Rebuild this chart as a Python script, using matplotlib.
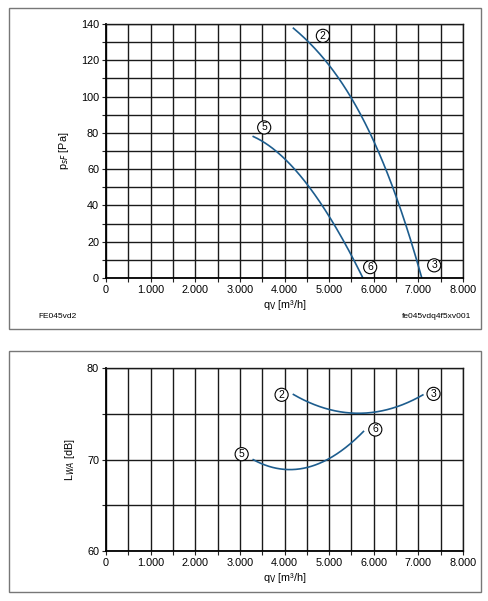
import numpy as np
import matplotlib.pyplot as plt
from matplotlib.patches import Rectangle
from matplotlib.ticker import MultipleLocator, FuncFormatter

plt.rcParams['font.family'] = ['Liberation Sans', 'DejaVu Sans']

# pressure curves (q_v in m3/h, p_sF in Pa)
q_23 = [4200, 4500, 5000, 5500, 6000, 6500, 7000, 7080]
p_23 = [138, 130, 119, 98, 75, 46, 6, 0]
q_56 = [3300, 4000, 4500, 5000, 5500, 5770]
p_56 = [78, 66, 51, 35.5, 11, 0]

# sound power curves (L_WA in dB)
lq_23 = [4200, 5000, 5600, 6400, 7100]
lw_23 = [77.1, 75.6, 75.0, 75.6, 77.1]
lq_56 = [3300, 4130, 5000, 5400, 5770]
lw_56 = [70.0, 68.9, 70.15, 71.4, 73.1]

top_marks = [("2", 4860, 133.5), ("5", 3545, 83), ("6", 5920, 6), ("3", 7355, 7)]
bot_marks = [("2", 3935, 77.1), ("3", 7340, 77.2), ("6", 6035, 73.3), ("5", 3040, 70.6)]

blue = '#1d5d8e'

fig = plt.figure(figsize=(4.89, 6.01), dpi=100)

# frames around the two panels
for y0, h in [(0.4526, 0.534), (0.015, 0.401)]:
    fig.patches.append(Rectangle((0.0184, y0), 0.965, h, transform=fig.transFigure,
                                 fill=False, ec='#777777', lw=1.0))

def smooth(x, y, deg):
    c = np.polyfit(x, y, deg)
    xs = np.linspace(x[0], x[-1], 200)
    return xs, np.polyval(c, xs)

def style(ax, ymin, ymax, ymaj, ymin_step):
    ax.set_xlim(0, 8000)
    ax.set_ylim(ymin, ymax)
    ax.xaxis.set_major_locator(MultipleLocator(1000))
    ax.xaxis.set_minor_locator(MultipleLocator(500))
    ax.yaxis.set_major_locator(MultipleLocator(ymaj))
    ax.yaxis.set_minor_locator(MultipleLocator(ymin_step))
    ax.xaxis.set_major_formatter(FuncFormatter(
        lambda v, p: '0' if v == 0 else f'{int(v):,}'.replace(',', '.')))
    ax.grid(True, which='major', color='#1a1a1a', lw=1.0)
    ax.grid(True, which='minor', color='#1a1a1a', lw=1.0)
    ax.tick_params(which='both', direction='out', length=3, width=0.8,
                   labelsize=7.8, pad=2, color='#222222')
    for s in ['top', 'right']:
        ax.spines[s].set_color('#1a1a1a')
        ax.spines[s].set_linewidth(1.0)
    for s in ['left', 'bottom']:
        ax.spines[s].set_linewidth(1.3)
    ax.set_axisbelow(True)

def marks(ax, items):
    for t, x, y in items:
        ax.text(x, y, t, fontsize=7.5, ha='center', va='center', zorder=5,
                bbox=dict(boxstyle='circle,pad=0.15', fc='white', ec='black', lw=0.8))

# top panel: pressure
ax1 = fig.add_axes([0.2168, 0.5374, 0.730, 0.4226])
style(ax1, 0, 140, 20, 10)
xs, ys = smooth(q_23, p_23, 3)
ax1.plot(xs, ys, color=blue, lw=1.2)
xs, ys = smooth(q_56, p_56, 3)
ax1.plot(xs, ys, color=blue, lw=1.2)
marks(ax1, top_marks)
ax1.set_xlabel(r'q$_\mathrm{V}$ [m³/h]', fontsize=7.8, labelpad=2)
ax1.set_ylabel(r'p$_{\mathit{sF}}$ [Pa]', fontsize=7.8, labelpad=7)
fig.text(0.078, 0.474, 'FE045vd2', fontsize=6, va='center')
fig.text(0.963, 0.474, 'fe045vdq4f5xv001', fontsize=6, va='center', ha='right')

# bottom panel: sound power
ax2 = fig.add_axes([0.2168, 0.0832, 0.730, 0.304])
style(ax2, 60, 80, 10, 5)
xs, ys = smooth(lq_23, lw_23, 2)
ax2.plot(xs, ys, color=blue, lw=1.2)
xs, ys = smooth(lq_56, lw_56, 3)
ax2.plot(xs, ys, color=blue, lw=1.2)
marks(ax2, bot_marks)
ax2.set_xlabel(r'q$_\mathrm{V}$ [m³/h]', fontsize=7.8, labelpad=2)
ax2.set_ylabel(r'L$_{\mathit{WA}}$ [dB]', fontsize=7.8, labelpad=7)

fig.savefig('out.png', dpi=100)
